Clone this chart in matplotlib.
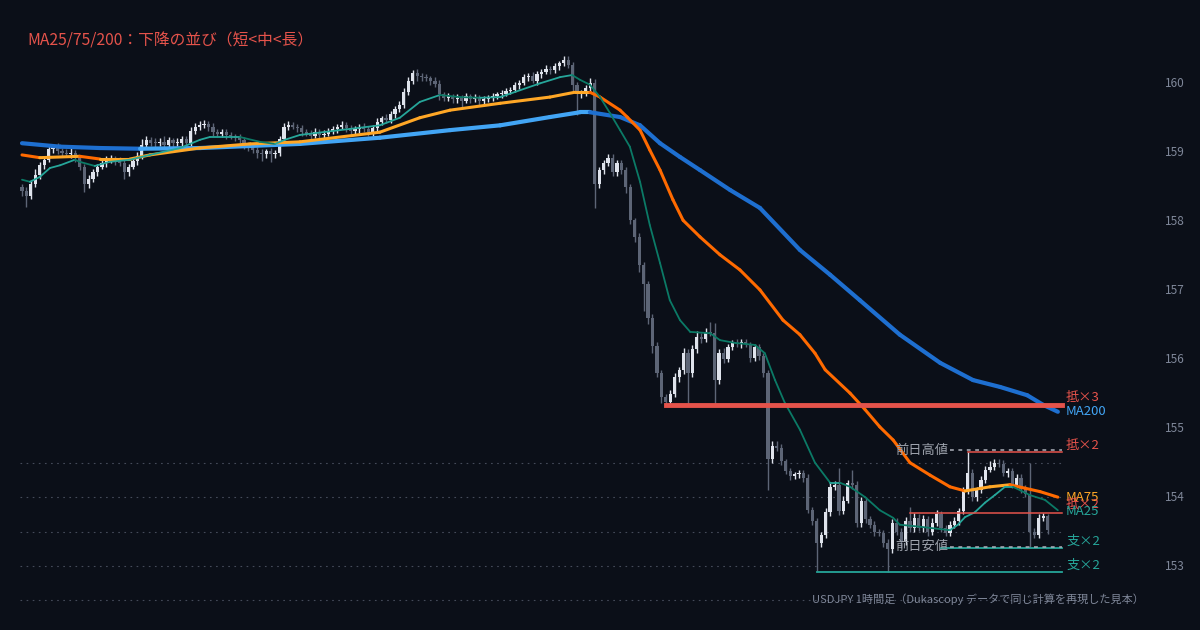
import numpy as np
import matplotlib
matplotlib.use("Agg")
import matplotlib.pyplot as plt
from matplotlib.collections import LineCollection

plt.rcParams['font.family'] = ['Noto Sans CJK JP', 'DejaVu Sans']

# USDJPY 1h closes (open = previous close)
first_open = 158.50
closes = [
    158.45, 158.38, 158.55, 158.68, 158.82, 158.90, 159.05, 159.08, 159.02, 159.00,
    158.98, 159.00, 158.92, 158.80, 158.55, 158.62, 158.72, 158.80, 158.85, 158.90,
    158.92, 158.88, 158.85, 158.72, 158.80, 158.88, 158.95, 159.12, 159.18, 159.15,
    159.14, 159.16, 159.12, 159.18, 159.14, 159.15, 159.20, 159.14, 159.32, 159.38,
    159.40, 159.42, 159.38, 159.30, 159.28, 159.30, 159.26, 159.24, 159.22, 159.18,
    159.12, 159.08, 159.04, 159.00, 158.98, 159.02, 158.98, 159.00, 159.20, 159.38,
    159.40, 159.38, 159.36, 159.30, 159.28, 159.25, 159.30, 159.26, 159.28, 159.32,
    159.34, 159.38, 159.40, 159.36, 159.32, 159.34, 159.38, 159.35, 159.30, 159.36,
    159.45, 159.50, 159.48, 159.56, 159.64, 159.70, 159.88, 160.05, 160.16, 160.12,
    160.10, 160.08, 160.05, 160.00, 159.85, 159.80, 159.82, 159.78, 159.80, 159.76,
    159.82, 159.78, 159.80, 159.76, 159.78, 159.80, 159.82, 159.85, 159.86, 159.90,
    159.92, 159.98, 160.02, 160.10, 160.12, 160.05, 160.14, 160.18, 160.22, 160.20,
    160.26, 160.30, 160.35, 160.28, 159.98, 159.85, 159.88, 159.94, 160.02, 158.55,
    158.75, 158.85, 158.93, 158.72, 158.85, 158.75, 158.50, 158.02, 157.78, 157.37,
    157.10, 156.60, 156.20, 155.80, 155.45, 155.38, 155.50, 155.75, 155.85, 156.10,
    155.80, 156.15, 156.33, 156.30, 156.40, 156.38, 155.70, 156.10, 156.00, 156.18,
    156.24, 156.22, 156.25, 156.22, 156.02, 156.18, 156.05, 155.80, 154.55, 154.75,
    154.72, 154.52, 154.38, 154.30, 154.33, 154.35, 154.28, 153.82, 153.65, 153.33,
    153.45, 153.78, 154.15, 154.18, 153.80, 153.95, 154.20, 154.18, 153.62, 153.95,
    153.68, 153.60, 153.50, 153.48, 153.33, 153.25, 153.63, 153.50, 153.35, 153.65,
    153.55, 153.70, 153.55, 153.68, 153.50, 153.62, 153.75, 153.55, 153.48, 153.60,
    153.66, 153.80, 154.10, 154.35, 154.00, 154.10, 154.25, 154.40, 154.44, 154.50,
    154.48, 154.35, 154.38, 154.18, 154.28, 154.12, 154.05, 153.50, 153.45, 153.70,
    153.72, 153.52,
]
upper_wick = [
    .05, .06, .05, .08, .05, .06, .08, .05, .06, .05,
    .05, .08, .04, .05, .04, .06, .05, .04, .05, .06,
    .05, .04, .06, .05, .04, .05, .06, .08, .06, .05,
    .06, .05, .08, .05, .04, .06, .05, .04, .06, .05,
    .06, .05, .04, .05, .04, .05, .04, .05, .04, .05,
    .05, .04, .05, .04, .05, .04, .05, .04, .05, .06,
    .06, .05, .04, .05, .04, .05, .06, .04, .05, .04,
    .05, .04, .06, .05, .04, .05, .04, .05, .04, .05,
    .05, .04, .06, .05, .04, .05, .06, .05, .04, .06,
    .04, .05, .04, .05, .06, .04, .05, .04, .05, .04,
    .05, .04, .05, .04, .05, .04, .05, .04, .05, .04,
    .04, .05, .04, .05, .04, .06, .05, .04, .05, .04,
    .05, .04, .06, .05, .04, .05, .04, .05, .06, .05,
    .05, .04, .06, .05, .04, .05, .04, .05, .04, .05,
    .05, .04, .06, .05, .04, .05, .06, .05, .04, .06,
    .05, .06, .08, .05, .06, .15, .15, .05, .06, .05,
    .04, .05, .04, .05, .04, .05, .04, .05, .04, .06,
    .06, .05, .04, .05, .04, .05, .04, .05, .04, .05,
    .05, .06, .05, .05, .25, .06, .05, .20, .06, .05,
    .05, .04, .05, .04, .05, .06, .05, .06, .05, .06,
    .20, .07, .05, .06, .05, .08, .06, .05, .04, .05,
    .05, .04, .05, .31, .06, .05, .06, .05, .08, .06,
    .05, .06, .04, .05, .06, .05, .05, .45, .05, .06,
    .05, .04,
]
lower_wick = [
    .08, .17, .05, .04, .06, .05, .04, .05, .04, .06,
    .04, .05, .06, .05, .12, .06, .04, .05, .04, .05,
    .05, .06, .04, .10, .05, .04, .05, .04, .06, .05,
    .05, .04, .06, .05, .06, .04, .05, .05, .04, .05,
    .05, .04, .06, .05, .04, .05, .06, .04, .05, .04,
    .06, .05, .04, .08, .10, .05, .12, .05, .04, .05,
    .05, .04, .06, .05, .04, .05, .04, .06, .05, .04,
    .04, .05, .04, .06, .05, .04, .05, .04, .06, .05,
    .04, .05, .04, .05, .06, .04, .05, .04, .05, .08,
    .05, .04, .06, .05, .08, .05, .04, .06, .05, .10,
    .04, .05, .04, .06, .05, .04, .05, .04, .05, .04,
    .05, .04, .05, .04, .05, .04, .06, .05, .04, .05,
    .04, .05, .04, .05, .08, .30, .06, .05, .04, .35,
    .06, .05, .04, .05, .06, .05, .08, .06, .08, .10,
    .40, .08, .10, .06, .08, .04, .06, .05, .08, .06,
    .45, .06, .05, .06, .05, .04, .36, .06, .05, .04,
    .05, .04, .05, .04, .06, .05, .06, .05, .45, .06,
    .05, .06, .04, .05, .04, .05, .06, .05, .06, .40,
    .05, .04, .06, .05, .06, .05, .04, .06, .05, .06,
    .06, .05, .06, .05, .06, .33, .06, .05, .09, .05,
    .05, .06, .04, .05, .06, .05, .04, .06, .05, .04,
    .05, .06, .05, .05, .06, .05, .04, .05, .04, .05,
    .04, .05, .06, .05, .04, .06, .05, .24, .05, .04,
    .04, .06,
]

# moving averages (bar index, price)
ma200_idx = [0, 8.6, 17.6, 26.6, 40.1, 51.4, 62.6, 80.6, 96.4, 107.7, 118.9, 125.7, 127.9,
             134.7, 139.2, 143.7, 148.2, 152.7, 159.5, 166.2, 175.2, 182, 188.7, 197.7,
             206.8, 214.2, 220.3, 226.4, 230, 233.3]
ma200_val = [159.14, 159.09, 159.07, 159.06, 159.07, 159.10, 159.13, 159.22, 159.33, 159.40,
             159.52, 159.59, 159.59, 159.52, 159.40, 159.14, 158.94, 158.75, 158.46, 158.20,
             157.59, 157.23, 156.86, 156.36, 155.95, 155.70, 155.60, 155.48, 155.34, 155.24]

ma75_idx = [0, 4, 13, 17.6, 24.3, 28.8, 40, 51.4, 62.6, 80.6, 89.6, 96.4, 107.7, 118.9, 124.5,
            127.9, 130.2, 134.7, 136.3, 139.2, 141.4, 143.7, 146.6, 148.9, 152.7, 157.2,
            161.7, 166.2, 171.4, 175.2, 178.6, 180.9, 186.5, 189.9, 193.2, 196.2, 200, 204.5,
            209, 212.4, 218, 222.5, 225.9, 229.3, 233.3]
ma75_val = [158.97, 158.93, 158.95, 158.91, 158.91, 158.97, 159.07, 159.13, 159.16, 159.30,
            159.51, 159.62, 159.72, 159.81, 159.88, 159.88, 159.81, 159.62, 159.52, 159.33,
            159.04, 158.75, 158.32, 158.02, 157.78, 157.52, 157.30, 157.01, 156.57, 156.36,
            156.09, 155.85, 155.51, 155.27, 155.02, 154.83, 154.50, 154.32, 154.15, 154.09,
            154.15, 154.18, 154.13, 154.08, 154.00]

ma25_idx = [0, 1.8, 4, 6.3, 8.6, 11.9, 13, 16.4, 19.8, 24.3, 28.8, 35.6, 40.1, 42.3, 49.1,
            53.6, 57, 59.2, 62.6, 71.6, 80.6, 85.1, 89.6, 94.1, 98.6, 103.2, 107.7, 112.2,
            116.7, 121.2, 123.9, 125.7, 127.9, 130.2, 132.4, 134.7, 136.9, 139.2, 141.4,
            143.7, 145.9, 148.2, 150.5, 155, 157.2, 160.6, 165.1, 167.3, 169.6, 171.8, 175.2,
            178.6, 182, 184.2, 186.5, 189.9, 193.2, 196.2, 197.7, 202.3, 209, 210.8, 212.4,
            214.6, 216.9, 219.1, 221.4, 223.2, 224.8, 227, 230.4, 233.3]
ma25_val = [158.61, 158.58, 158.65, 158.78, 158.82, 158.90, 158.87, 158.81, 158.87, 158.90,
            158.97, 159.07, 159.19, 159.23, 159.23, 159.16, 159.13, 159.19, 159.26, 159.33,
            159.40, 159.51, 159.74, 159.84, 159.81, 159.80, 159.81, 159.91, 160.01, 160.10,
            160.13, 160.06, 159.99, 159.81, 159.58, 159.33, 159.09, 158.58, 157.95, 157.40,
            156.86, 156.57, 156.40, 156.38, 156.28, 156.24, 156.21, 156.09, 155.70, 155.37,
            154.98, 154.50, 154.21, 154.21, 154.15, 154.00, 153.81, 153.70, 153.60, 153.57,
            153.52, 153.60, 153.71, 153.78, 153.92, 154.03, 154.15, 154.15, 154.10, 154.03,
            153.96, 153.81]

# support / resistance levels
resist3 = 155.34
resist2_hi = 154.65
resist2_lo = 153.77
support2_hi = 153.26
support2_lo = 152.91
prev_high = 154.68
prev_low = 153.28
grid_levels = [152.5, 153.0, 153.5, 154.0, 154.5]
y_ticks = [153, 154, 155, 156, 157, 158, 159, 160]

BG = '#0b0f18'
UP_C = '#dfe3ec'
DN_C = '#5d6576'
RED = '#e5534b'
TEAL = '#26a69a'

# pixel layout helpers (bar spacing ~4.44 px, first bar at x=22)
DX = 4.44
X0 = 22
def bx(px):
    return (px - X0) / DX

n = len(closes)
closes = np.array(closes)
opens = np.concatenate([[first_open], closes[:-1]])
highs = np.maximum(opens, closes) + np.array(upper_wick)
lows = np.minimum(opens, closes) - np.array(lower_wick)
x = np.arange(n)

fig = plt.figure(figsize=(12, 6.3), dpi=100, facecolor=BG)
ax = fig.add_axes([0, 0, 1, 1], facecolor=BG)
ax.set_xlim(bx(0), bx(1200))
ax.set_ylim(153 - 64 / 68.86, 160 + 84 / 68.86)
ax.axis('off')

end_x = bx(1062)

# dotted grid near current price
for g in grid_levels:
    ax.plot([bx(20), end_x], [g, g], color='#454b5a', lw=0.8,
            linestyle=(0, (1.5, 4)), zorder=1)

# candles
up = closes >= opens
colors = np.where(up, UP_C, DN_C)
ax.vlines(x, lows, highs, colors=colors, lw=1, zorder=2)
body_h = np.maximum(np.abs(closes - opens), 0.015)
ax.bar(x, body_h, bottom=np.minimum(opens, closes), width=0.72,
       color=colors, edgecolor='none', zorder=3)


def slope_line(idx, vals, up_c, dn_c, lw):
    pts = np.column_stack([idx, vals])
    segs = np.stack([pts[:-1], pts[1:]], axis=1)
    cols = [up_c if b >= a else dn_c for a, b in zip(vals[:-1], vals[1:])]
    ax.add_collection(LineCollection(segs, colors=cols, linewidths=lw,
                                     capstyle='round', zorder=5))


slope_line(ma200_idx, ma200_val, '#42a5f5', '#1e6fd0', 3.0)
slope_line(ma75_idx, ma75_val, '#ffa726', '#ff6a00', 2.2)
slope_line(ma25_idx, ma25_val, '#26a69a', '#0b7a66', 1.3)

# levels
ax.plot([145, end_x], [resist3, resist3], color=RED, lw=3.5, zorder=6)
ax.plot([213, end_x], [resist2_hi, resist2_hi], color=RED, lw=1.1, zorder=6)
ax.plot([200, end_x], [resist2_lo, resist2_lo], color=RED, lw=1.1, zorder=6)
ax.plot([207, end_x], [support2_hi, support2_hi], color=TEAL, lw=1.3, zorder=6)
ax.plot([179, end_x], [support2_lo, support2_lo], color=TEAL, lw=1.3, zorder=6)
ax.plot([209, end_x], [prev_high, prev_high], color='#aeb2bc', lw=1.1,
        linestyle=(0, (2.5, 3)), zorder=6)
ax.plot([209, end_x], [prev_low, prev_low], color='#aeb2bc', lw=1.1,
        linestyle=(0, (2.5, 3)), zorder=6)
ax.text(bx(948), prev_high, '前日高値', color='#9ea3ad', fontsize=9.5,
        ha='right', va='center', zorder=7)
ax.text(bx(948), prev_low, '前日安値', color='#9ea3ad', fontsize=9.5,
        ha='right', va='center', zorder=7)

# right-hand labels (the lower 抵×2 sits on MA25 as in the source chart)
lab_x = bx(1066)
labels = [
    (resist3, '抵×3', RED, 5),
    (ma200_val[-1], 'MA200', '#42a5f5', 0),
    (resist2_hi, '抵×2', RED, 5),
    (ma75_val[-1], 'MA75', '#ffa726', 0),
    (resist2_lo, '抵×2', RED, 6),
    (ma25_val[-1], 'MA25', TEAL, -1),
    (support2_hi, '支×2', TEAL, 5),
    (support2_lo, '支×2', TEAL, 5),
]
for y, txt, c, dy in labels:
    ax.annotate(txt, xy=(lab_x, y), xytext=(0, dy), textcoords='offset points',
                color=c, fontsize=9.5, ha='left', va='center', zorder=8)

# price axis
for t in y_ticks:
    ax.text(bx(1185), t, f'{t}', color='#7f8799', fontsize=8.5,
            ha='right', va='center')

fig.text(27 / 1200, 1 - 41 / 630, 'MA25/75/200：下降の並び（短<中<長）',
         color=RED, fontsize=11.3, ha='left', va='center')
fig.text(812 / 1200, 1 - 599 / 630,
         'USDJPY 1時間足（Dukascopy データで同じ計算を再現した見本）',
         color='#7f8799', fontsize=8, ha='left', va='center')

fig.savefig('out.png', dpi=100, facecolor=BG)
